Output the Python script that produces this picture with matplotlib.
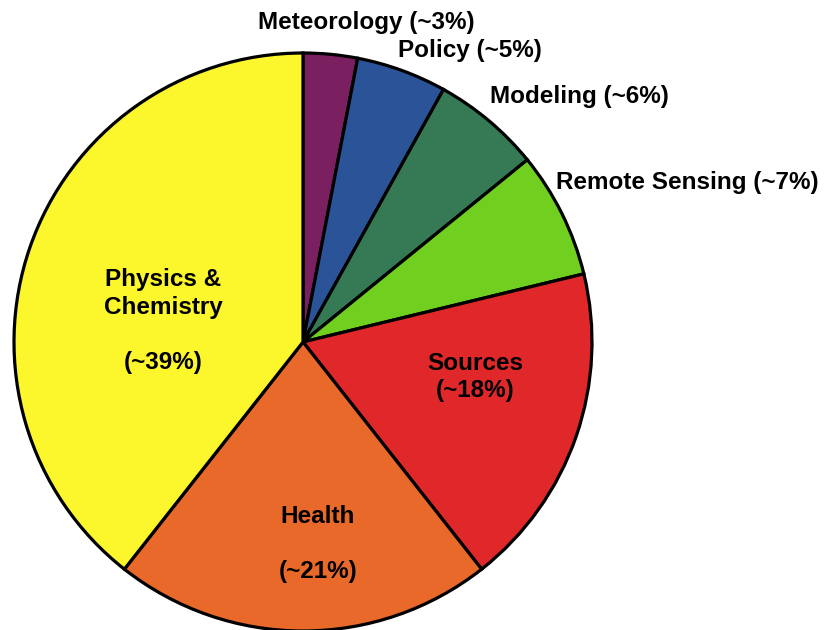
import matplotlib.pyplot as plt

plt.rcParams['font.family'] = ['Liberation Sans', 'DejaVu Sans']

# research areas, clockwise from 12 o'clock
areas = ["Meteorology", "Policy", "Modeling", "Remote Sensing", "Sources", "Health", "Physics & Chemistry"]
shares = [3, 5, 6, 7, 18, 21, 39]
colors = ["#7a1f5f", "#2b5398", "#357a55", "#70cf1f", "#e0282a", "#e8692a", "#fcf62c"]

fig = plt.figure(figsize=(8.29, 6.30), dpi=100)
ax = fig.add_axes([0, 0, 1, 1])

# work in pixel units so the pie sits where we want it
cx, cy, r = 303, 630 - 342, 289
ax.pie(shares, colors=colors, startangle=90, counterclock=False,
       center=(cx, cy), radius=r,
       wedgeprops=dict(edgecolor="black", linewidth=2.3))
ax.set_xlim(0, 829)
ax.set_ylim(0, 630)
ax.set_aspect("equal")
ax.axis("off")

fs = 17.5

def lab(name, val):
    return name + " (~" + str(val) + "%)"

# small slices get their labels outside the pie, left aligned
outer = [(258, 608), (398, 580), (490, 534), (556, 447)]
for i, (x, y) in enumerate(outer):
    ax.text(x, y, lab(areas[i], shares[i]), ha="left", va="center",
            fontsize=fs, fontweight="bold")

# big slices get their labels inside
ax.text(163, 630 - 321, "Physics &\nChemistry\n\n(~" + str(shares[6]) + "%)",
        ha="center", va="center", fontsize=fs, fontweight="bold", linespacing=1.27)
ax.text(475, 630 - 377, "Sources\n(~" + str(shares[4]) + "%)",
        ha="center", va="center", fontsize=fs, fontweight="bold", linespacing=1.27)
ax.text(318, 630 - 544, "Health\n\n(~" + str(shares[5]) + "%)",
        ha="center", va="center", fontsize=fs, fontweight="bold", linespacing=1.27)

fig.savefig("out.png", dpi=100)
